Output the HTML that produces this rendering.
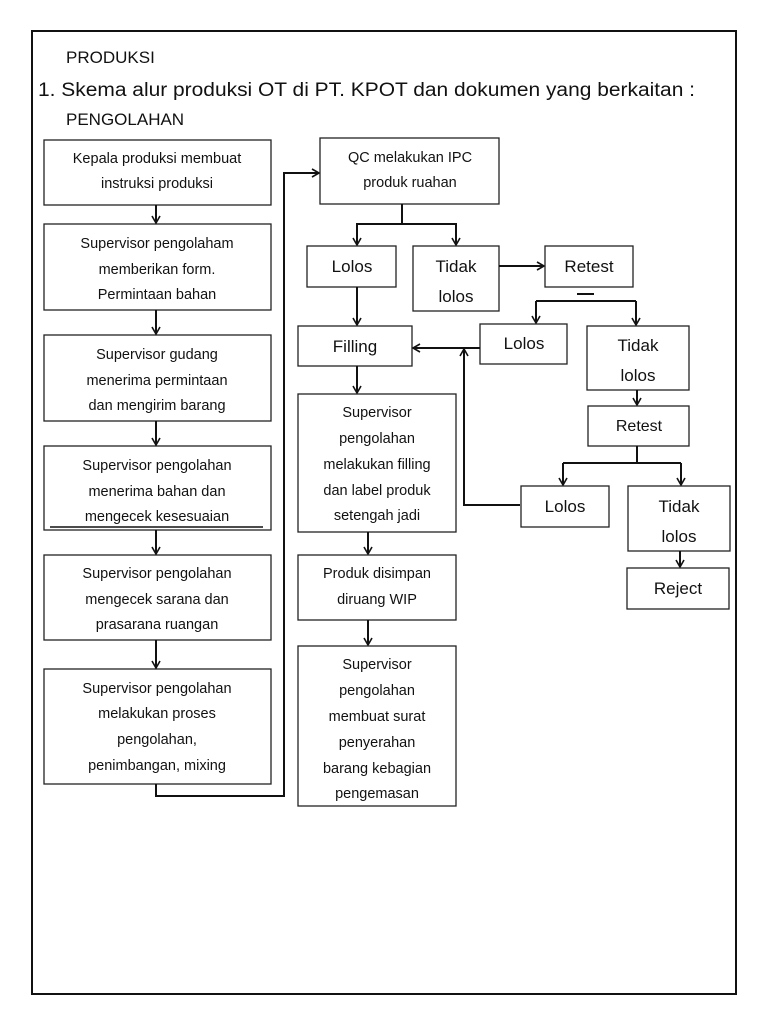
<!DOCTYPE html>
<html><head><meta charset="utf-8"><style>
html,body{margin:0;padding:0;background:#fff}
svg{display:block}
text{font-family:"Liberation Sans","DejaVu Sans",sans-serif;fill:#111}
.b{fill:#fff;stroke:#222;stroke-width:1.3}
.l{stroke:#111;stroke-width:2;fill:none}
.t{font-size:14.5px;text-anchor:middle}
.m{font-size:17px;text-anchor:middle}
</style></head><body>
<svg width="768" height="1024" viewBox="0 0 768 1024">
<defs><marker id="a" markerWidth="10" markerHeight="10" refX="8" refY="5" orient="auto" markerUnits="userSpaceOnUse"><path d="M1,1 L8,5 L1,9" fill="none" stroke="#111" stroke-width="1.6"/></marker></defs>
<rect x="32" y="31" width="704" height="963" fill="none" stroke="#111" stroke-width="2"/>
<text x="66" y="63" font-size="17">PRODUKSI</text>
<text x="38" y="96" font-size="19" textLength="657" lengthAdjust="spacingAndGlyphs">1.  Skema alur produksi OT di PT. KPOT dan dokumen yang berkaitan :</text>
<text x="66" y="125" font-size="17">PENGOLAHAN</text>

<rect class="b" x="44" y="140" width="227" height="65"/>
<text class="t" x="157" y="163">Kepala produksi membuat</text><text class="t" x="157" y="188">instruksi produksi</text>
<rect class="b" x="44" y="224" width="227" height="86"/>
<text class="t" x="157" y="248">Supervisor pengolaham</text><text class="t" x="157" y="274">memberikan form.</text><text class="t" x="157" y="299">Permintaan bahan</text>
<rect class="b" x="44" y="335" width="227" height="86"/>
<text class="t" x="157" y="359">Supervisor gudang</text><text class="t" x="157" y="385">menerima permintaan</text><text class="t" x="157" y="410">dan mengirim barang</text>
<rect class="b" x="44" y="446" width="227" height="84"/>
<text class="t" x="157" y="470">Supervisor pengolahan</text><text class="t" x="157" y="496">menerima bahan dan</text><text class="t" x="157" y="521">mengecek kesesuaian</text>
<line x1="50" y1="527" x2="263" y2="527" stroke="#111" stroke-width="1.5"/>
<rect class="b" x="44" y="555" width="227" height="85"/>
<text class="t" x="157" y="578">Supervisor pengolahan</text><text class="t" x="157" y="604">mengecek sarana dan</text><text class="t" x="157" y="629">prasarana ruangan</text>
<rect class="b" x="44" y="669" width="227" height="115"/>
<text class="t" x="157" y="693">Supervisor pengolahan</text><text class="t" x="157" y="718">melakukan proses</text><text class="t" x="157" y="744">pengolahan,</text><text class="t" x="157" y="770">penimbangan, mixing</text>
<line class="l" x1="156" y1="205" x2="156" y2="223" marker-end="url(#a)"/>
<line class="l" x1="156" y1="310" x2="156" y2="334" marker-end="url(#a)"/>
<line class="l" x1="156" y1="421" x2="156" y2="445" marker-end="url(#a)"/>
<line class="l" x1="156" y1="530" x2="156" y2="554" marker-end="url(#a)"/>
<line class="l" x1="156" y1="640" x2="156" y2="668" marker-end="url(#a)"/>
<polyline class="l" points="156,784 156,796 284,796 284,173 319,173" marker-end="url(#a)"/>

<rect class="b" x="320" y="138" width="179" height="66"/>
<text class="t" x="410" y="162">QC melakukan IPC</text><text class="t" x="410" y="187">produk ruahan</text>
<polyline class="l" points="402,204 402,224"/>
<polyline class="l" points="357,245 357,224 456,224 456,245" />
<line class="l" x1="357" y1="224" x2="357" y2="245" marker-end="url(#a)"/>
<line class="l" x1="456" y1="224" x2="456" y2="245" marker-end="url(#a)"/>
<rect class="b" x="307" y="246" width="89" height="41"/><text class="m" x="352" y="272">Lolos</text>
<rect class="b" x="413" y="246" width="86" height="65"/><text class="m" x="456" y="272">Tidak</text><text class="m" x="456" y="302">lolos</text>
<line class="l" x1="499" y1="266" x2="544" y2="266" marker-end="url(#a)"/>
<rect class="b" x="545" y="246" width="88" height="41"/><text class="m" x="589" y="272">Retest</text>
<line x1="577" y1="294" x2="594" y2="294" stroke="#111" stroke-width="2"/>
<polyline class="l" points="536,301 636,301"/>
<line class="l" x1="536" y1="301" x2="536" y2="323" marker-end="url(#a)"/>
<line class="l" x1="636" y1="301" x2="636" y2="325" marker-end="url(#a)"/>
<line class="l" x1="357" y1="287" x2="357" y2="325" marker-end="url(#a)"/>
<rect class="b" x="298" y="326" width="114" height="40"/><text class="m" x="355" y="352">Filling</text>
<rect class="b" x="480" y="324" width="87" height="40"/><text class="m" x="524" y="349">Lolos</text>
<line class="l" x1="480" y1="348" x2="413" y2="348" marker-end="url(#a)"/>
<polyline class="l" points="520,505 464,505 464,349" marker-end="url(#a)"/>
<rect class="b" x="587" y="326" width="102" height="64"/><text class="m" x="638" y="351">Tidak</text><text class="m" x="638" y="381">lolos</text>
<line class="l" x1="637" y1="390" x2="637" y2="405" marker-end="url(#a)"/>
<rect class="b" x="588" y="406" width="101" height="40"/><text class="t" x="639" y="431" style="font-size:16px">Retest</text>
<polyline class="l" points="637,446 637,463"/>
<polyline class="l" points="563,463 681,463"/>
<line class="l" x1="563" y1="463" x2="563" y2="485" marker-end="url(#a)"/>
<line class="l" x1="681" y1="463" x2="681" y2="485" marker-end="url(#a)"/>
<rect class="b" x="521" y="486" width="88" height="41"/><text class="m" x="565" y="512">Lolos</text>
<rect class="b" x="628" y="486" width="102" height="65"/><text class="m" x="679" y="512">Tidak</text><text class="m" x="679" y="542">lolos</text>
<line class="l" x1="680" y1="551" x2="680" y2="567" marker-end="url(#a)"/>
<rect class="b" x="627" y="568" width="102" height="41"/><text class="m" x="678" y="594">Reject</text>

<line class="l" x1="357" y1="366" x2="357" y2="393" marker-end="url(#a)"/>
<rect class="b" x="298" y="394" width="158" height="138"/>
<text class="t" x="377" y="417">Supervisor</text><text class="t" x="377" y="443">pengolahan</text><text class="t" x="377" y="469">melakukan filling</text><text class="t" x="377" y="495">dan label produk</text><text class="t" x="377" y="520">setengah jadi</text>
<line class="l" x1="368" y1="532" x2="368" y2="554" marker-end="url(#a)"/>
<rect class="b" x="298" y="555" width="158" height="65"/>
<text class="t" x="377" y="578">Produk disimpan</text><text class="t" x="377" y="604">diruang WIP</text>
<line class="l" x1="368" y1="620" x2="368" y2="645" marker-end="url(#a)"/>
<rect class="b" x="298" y="646" width="158" height="160"/>
<text class="t" x="377" y="669">Supervisor</text><text class="t" x="377" y="695">pengolahan</text><text class="t" x="377" y="721">membuat surat</text><text class="t" x="377" y="747">penyerahan</text><text class="t" x="377" y="773">barang kebagian</text><text class="t" x="377" y="798">pengemasan</text>
</svg>
</body></html>
